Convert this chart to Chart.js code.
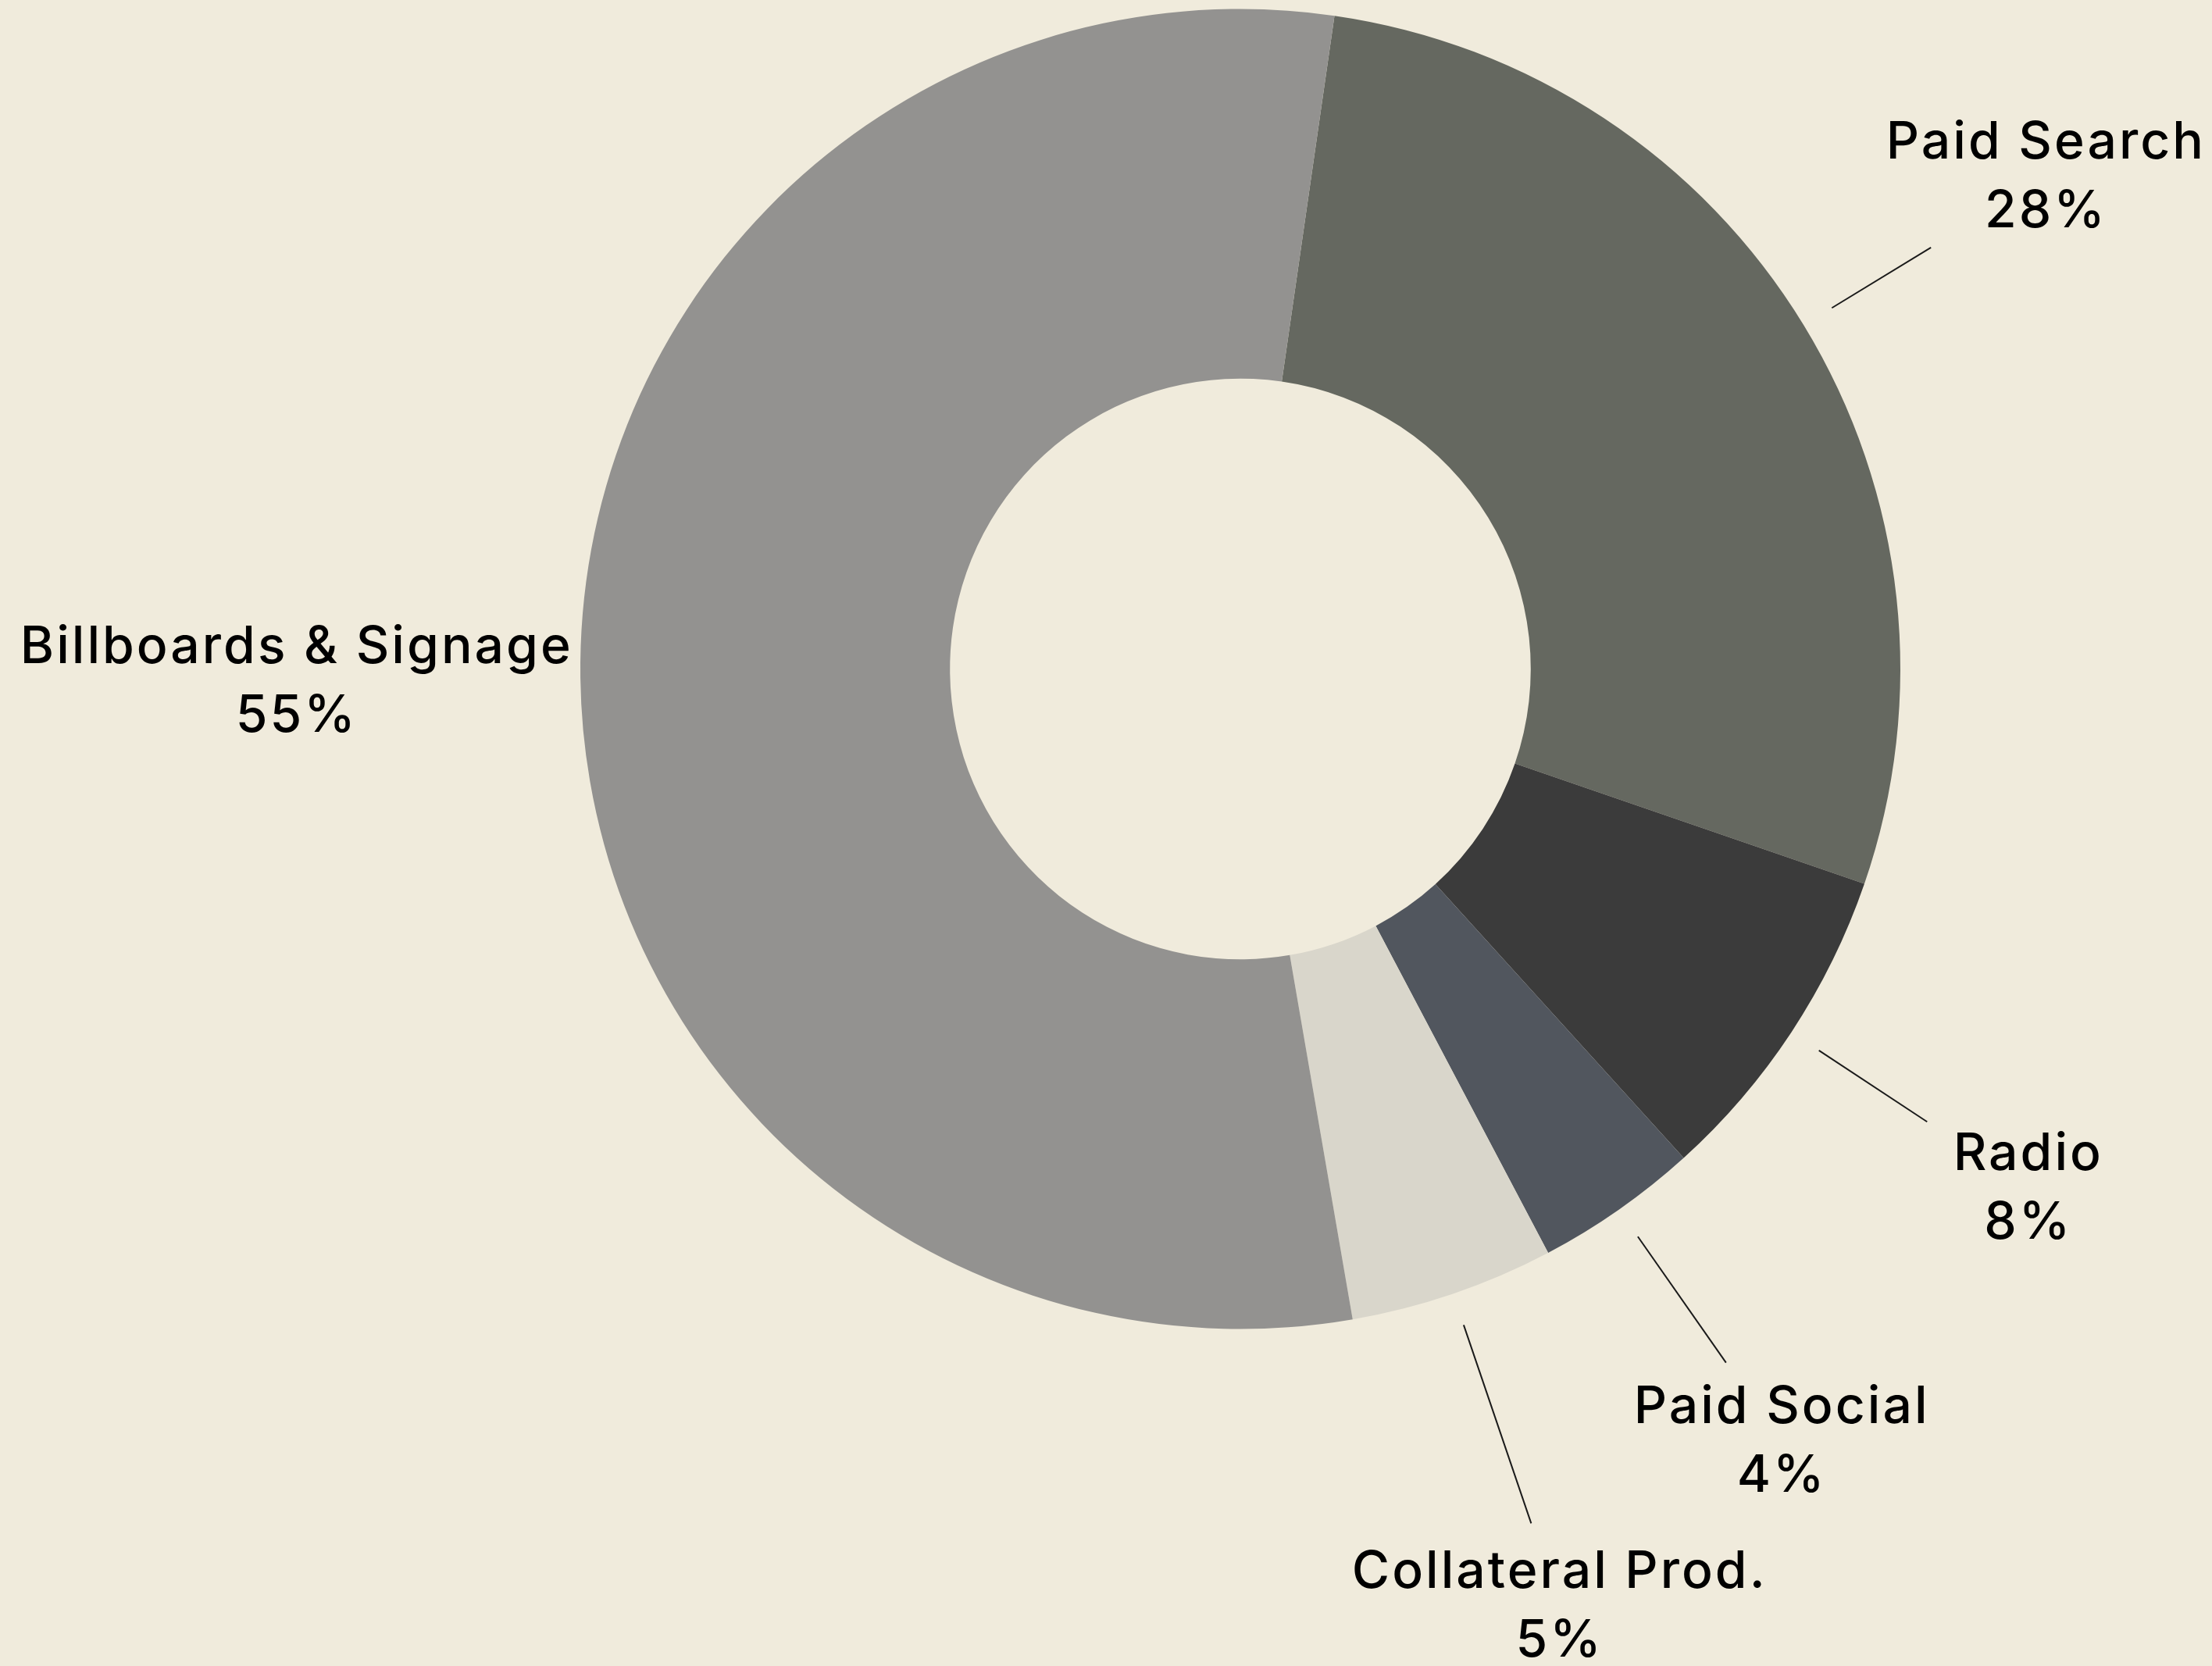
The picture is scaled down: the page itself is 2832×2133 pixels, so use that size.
<!DOCTYPE html>
<html>
<head>
<meta charset="utf-8">
<script src="https://cdn.jsdelivr.net/npm/chart.js@4"></script>
<style>
  html, body { margin: 0; padding: 0; background: #f0ebdc; }
  #wrap { width: 2832px; height: 2133px; }
</style>
</head>
<body>
<div id="wrap"><canvas id="c" width="2832" height="2133"></canvas></div>
<script>
const categories = ['Paid Search', 'Radio', 'Paid Social', 'Collateral Prod.', 'Billboards & Signage'];
const shares = [28, 8, 4, 5, 55];
const sliceColors = ['#656860', '#3b3b3b', '#51565e', '#d9d6cb', '#939290'];

const FONT = '500 66px Inter, "Noto Sans", sans-serif';
const LETTER_SPACING = '3px';
const LINE_GAP = 88;

const outerLabels = {
  id: 'outerLabels',
  afterDraw(chart) {
    const ctx = chart.ctx;
    const meta = chart.getDatasetMeta(0);
    const total = shares.reduce((a, b) => a + b, 0);
    ctx.save();
    ctx.font = FONT;
    if ('letterSpacing' in ctx) ctx.letterSpacing = LETTER_SPACING;
    const placed = [];
    meta.data.forEach((arc, i) => {
      const p = arc.getProps(['x', 'y', 'startAngle', 'endAngle', 'outerRadius'], true);
      const mid = (p.startAngle + p.endAngle) / 2;
      const dx = Math.cos(mid), dy = Math.sin(mid);
      const R = p.outerRadius;
      const l1 = categories[i];
      const l2 = Math.round(shares[i] / total * 100) + '%';
      const w = Math.max(ctx.measureText(l1).width, ctx.measureText(l2).width);
      const hw = w / 2, hh = 69;
      let r = R * 1.43;
      const pad = 72;
      const overlaps = (cx, cy) => placed.some(b =>
        cx - hw - pad < b.x2 && cx + hw + pad > b.x1 && cy - hh - pad < b.y2 && cy + hh + pad > b.y1);
      let cx = p.x + dx * r, cy = p.y + dy * r;
      let guard = 0;
      while (overlaps(cx, cy) && guard < 500) {
        r += 2; cx = p.x + dx * r; cy = p.y + dy * r; guard++;
      }
      placed.push({ x1: cx - hw, x2: cx + hw, y1: cy - hh, y2: cy + hh });
      let tx = Infinity, ty = Infinity;
      if (Math.abs(dx) > 1e-6) tx = ((dx > 0 ? cx - hw : cx + hw) - p.x) / dx;
      if (Math.abs(dy) > 1e-6) ty = ((dy > 0 ? cy - hh : cy + hh) - p.y) / dy;
      const enter = Math.max(isFinite(tx) ? tx : -Infinity, isFinite(ty) ? ty : -Infinity);
      const start = R * 1.05;
      const end = enter - 40;
      if (end > start + 10) {
        ctx.beginPath();
        ctx.strokeStyle = '#1a1a1a';
        ctx.lineWidth = 2;
        ctx.moveTo(p.x + dx * start, p.y + dy * start);
        ctx.lineTo(p.x + dx * end, p.y + dy * end);
        ctx.stroke();
      }
      ctx.fillStyle = '#000';
      ctx.textAlign = 'center';
      ctx.textBaseline = 'middle';
      ctx.fillText(l1, cx, cy - LINE_GAP / 2);
      ctx.fillText(l2, cx, cy + LINE_GAP / 2);
    });
    ctx.restore();
  }
};

new Chart(document.getElementById('c'), {
  type: 'doughnut',
  data: {
    labels: categories,
    datasets: [{
      data: shares,
      backgroundColor: sliceColors,
      borderWidth: 0,
      hoverOffset: 0
    }]
  },
  options: {
    responsive: false,
    devicePixelRatio: 1,
    animation: false,
    rotation: 8.2,
    cutout: '44%',
    layout: { padding: { left: 743, right: 399, top: 11, bottom: 431 } },
    plugins: {
      legend: { display: false },
      tooltip: { enabled: false }
    }
  },
  plugins: [outerLabels]
});
</script>
</body>
</html>
